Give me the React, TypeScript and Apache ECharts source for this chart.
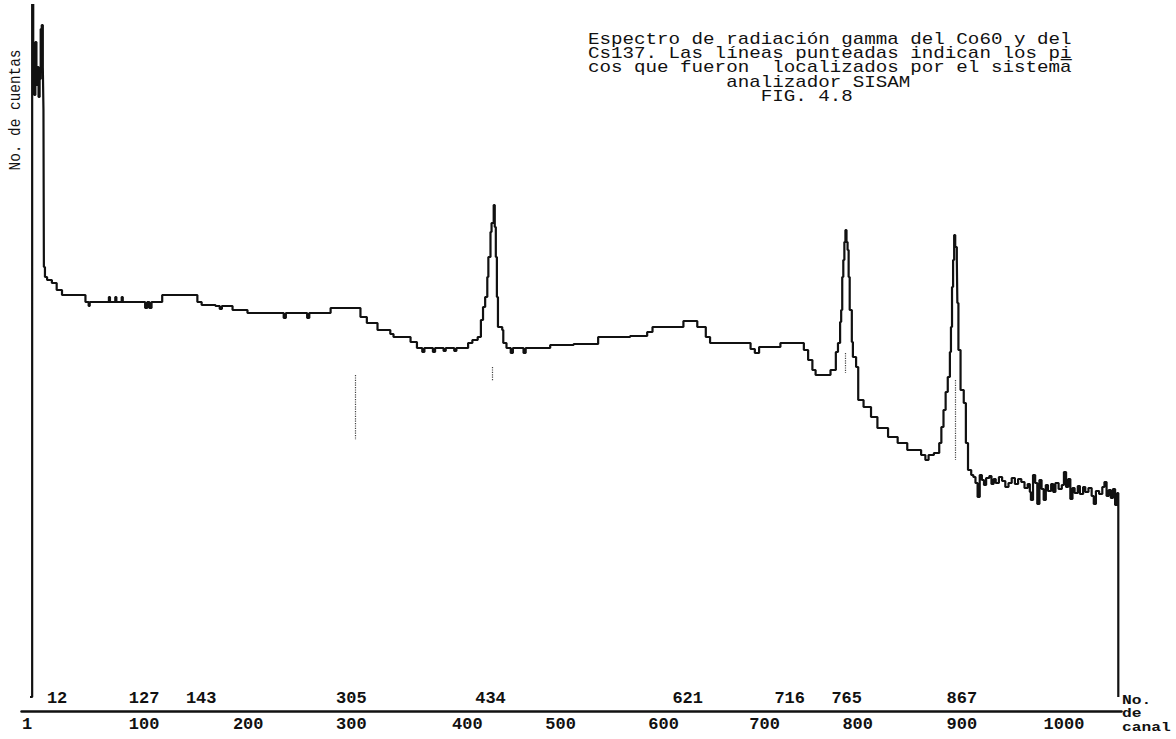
import React, { useEffect, useRef } from "react";
import * as echarts from "echarts";

// Channel numbers (x) and counts (arbitrary units, y)
const channels = [
  0, 2, 3, 4, 5, 6, 7, 8, 9, 10, 11, 12, 12.6, 13, 14, 16, 20.5, 25, 30, 52,
  55, 56, 74, 75, 80, 81, 86, 87, 108, 110, 112, 114, 124, 157, 161, 174, 178, 180, 190, 204,
  238, 240, 260, 262, 282, 310, 316, 326, 338, 341, 357, 363, 368, 370, 378, 380, 388, 390, 398, 400,
  411, 415, 420, 423, 425, 427, 429, 430, 432, 433, 435, 436, 437, 438, 439, 443, 444, 447, 451, 453,
  463, 465, 488, 510, 533, 563, 579, 584, 613, 626, 634, 638, 676, 680, 684, 704, 726, 730, 734, 737,
  751, 756, 758, 760, 761, 762, 763, 764, 765, 766, 767, 768, 769, 771, 772, 775, 777, 782, 789, 795,
  805, 814, 823, 836, 840, 843, 848, 853, 855, 857, 859, 861, 863, 864, 865, 866, 867, 868, 869.5, 870,
  871, 873, 876, 878, 880, 883,
  885, 887, 889, 891, 893, 895, 897, 900, 902, 904, 906, 909, 912, 915, 918, 921, 924, 927, 930, 933,
  936, 938, 939, 941, 943, 945, 947, 949, 951, 953, 955, 958, 960, 962, 965, 968, 970, 972, 974, 976,
  978, 980, 983, 985, 988, 990, 993, 996, 998, 1000, 1003, 1006, 1008, 1010, 1012, 1014, 1016, 1018, 1020, 1021,
];
const counts = [
  0, 720, 640, 602, 655, 612, 630, 600, 618, 668, 672, 630, 587, 430, 420, 417, 414, 407, 402, 395,
  391, 395, 400, 395, 400, 395, 400, 395, 389, 395, 389, 395, 402, 395, 392, 391, 388, 391, 387, 384,
  379, 384, 379, 384, 389, 380, 374, 367, 363, 360, 355, 349, 345, 349, 345, 349, 346, 349, 346, 349,
  354, 357, 360, 377, 390, 400, 420, 440, 465, 474, 492, 470, 440, 400, 370, 367, 354, 349, 344, 349,
  344, 349, 352, 353, 360, 361, 365, 370, 376, 370, 360, 354, 348, 344, 350, 354, 347, 337, 327, 322,
  327, 345, 354, 375, 387, 420, 437, 455, 467, 455, 447, 420, 387, 355, 340, 330, 297, 290, 280, 269,
  260, 254, 247, 242, 237, 242, 244, 254, 270, 287, 305, 320, 345, 370, 410, 437, 462, 450, 437, 394,
  347, 307, 294, 254, 227, 222,
  220, 214, 200, 222, 217, 212, 219, 221, 213, 218, 214, 220, 216, 210, 214, 219, 213, 218, 215, 209,
  213, 205, 197, 222, 214, 193, 217, 208, 197, 212, 206, 213, 205, 214, 208, 212, 225, 210, 218, 198,
  209, 204, 211, 203, 210, 205, 209, 201, 193, 206, 203, 210, 215, 201, 207, 199, 208, 192, 204, 0,
];

// Printed channel scale (typed labels) and the channel position where each was typed
const tickLabels = ["1", "100", "200", "300", "400", "500", "600", "700", "800", "900", "1000"];
const tickLabelAt = [-2.8, 107, 204.7, 301.4, 410.3, 497.7, 594.4, 689.2, 776.5, 874.2, 970];

// Peaks located by the SISAM analyzer and where their numbers were typed
const peakLabels = ["12", "127", "143", "305", "434", "621", "716", "765", "867"];
const peakLabelAt = [25.4, 107, 160.6, 301.4, 432, 617, 712.7, 766.2, 874.2];

// Dotted peak markers that are visible on the plot: channel, from-count, to-count
const peakMarkChannel = [305, 434, 765, 868];
const peakMarkFrom = [322, 330, 344, 317];
const peakMarkTo = [257, 316, 324, 237];

const titleLines = [
  "Espectro de radiación gamma del Co60 y del",
  "Cs137. Las líneas punteadas indican los pi̲",
  "cos que fueron  localizados por el sistema",
  "            analizador SISAM",
  "               FIG. 4.8",
];
const yName = "No. de cuentas";
const xNameLines = ["No.", "de", "canal"];

const MONO = '"Liberation Mono", "DejaVu Sans Mono", monospace';

export default function App() {
  const ref = useRef<HTMLDivElement>(null);

  useEffect(() => {
    if (!ref.current) return;
    const chart = echarts.init(ref.current, null, { renderer: "svg" });
    const data = channels.map((c, i) => [c, counts[i]]);
    const lookup = (vals: number[], labels: string[]) => (v: number) => {
      let best = 0;
      for (let i = 1; i < vals.length; i++) {
        if (Math.abs(vals[i] - v) < Math.abs(vals[best] - v)) best = i;
      }
      return labels[best];
    };

    chart.setOption({
      animation: false,
      backgroundColor: "#ffffff",
      grid: {
        left: 21.5,
        right: 54.5,
        top: 5,
        bottom: 42,
        containLabel: false,
        outerBoundsMode: "none",
      },
      xAxis: [
        {
          type: "value",
          min: -8,
          max: 1024,
          position: "bottom",
          offset: 14,
          axisLine: { show: true, onZero: false, lineStyle: { color: "#111", width: 2.5 } },
          axisTick: { show: false },
          splitLine: { show: false },
          axisLabel: {
            customValues: tickLabelAt,
            formatter: lookup(tickLabelAt, tickLabels),
            fontFamily: MONO,
            fontSize: 17,
            fontWeight: "bold",
            color: "#111",
            margin: 5,
          },
        },
        {
          type: "value",
          min: -8,
          max: 1024,
          position: "bottom",
          offset: -7,
          axisLine: { show: false, onZero: false },
          axisTick: { show: false },
          splitLine: { show: false },
          axisLabel: {
            customValues: peakLabelAt,
            formatter: lookup(peakLabelAt, peakLabels),
            fontFamily: MONO,
            fontSize: 17,
            fontWeight: "bold",
            color: "#111",
            margin: 0,
          },
        },
      ],
      yAxis: {
        type: "value",
        min: 0,
        max: 692,
        show: false,
      },
      series: [
        {
          type: "line",
          xAxisIndex: 0,
          data,
          step: "end",
          showSymbol: false,
          clip: true,
          lineStyle: { color: "#111", width: 2.2 },
          markLine: {
            silent: true,
            symbol: "none",
            label: { show: false },
            lineStyle: { color: "#444", type: "dotted", width: 1.2 },
            data: peakMarkChannel.map((c, i) => [
              { coord: [c, peakMarkFrom[i]] },
              { coord: [c, peakMarkTo[i]] },
            ]),
          },
        },
      ],
      graphic: [
        {
          type: "text",
          x: 588,
          y: 32,
          scaleX: 1.2,
          style: {
            text: titleLines.join("\n"),
            font: `16px ${MONO}`,
            lineHeight: 14.3,
            fill: "#111",
          },
        },
        {
          type: "text",
          x: 16,
          y: 110,
          rotation: Math.PI / 2,
          scaleX: 0.9,
          style: {
            text: yName,
            font: `16px ${MONO}`,
            align: "center",
            verticalAlign: "middle",
            fill: "#111",
          },
        },
        ...xNameLines.map((t, i) => ({
          type: "text",
          x: 1122,
          y: 700 + i * 13.6,
          scaleX: 1.25,
          style: {
            text: t,
            font: `bold 13px ${MONO}`,
            verticalAlign: "middle",
            fill: "#111",
          },
        })),
      ],
    });
    return () => chart.dispose();
  }, []);

  return (
    <div
      ref={ref}
      style={{ position: "fixed", left: 0, top: 0, width: 1176, height: 739, background: "#fff" }}
    />
  );
}
